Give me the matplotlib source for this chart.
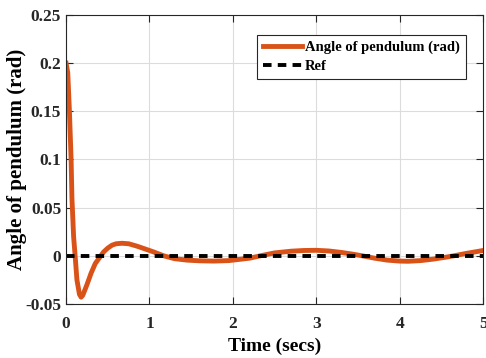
import matplotlib
matplotlib.use('Agg')
import matplotlib.pyplot as plt

# pendulum angle (time in secs, angle in rad)
t = [0.0, 0.02, 0.04, 0.06, 0.07, 0.09, 0.11, 0.13, 0.16, 0.18, 0.20, 0.25,
     0.30, 0.35, 0.40, 0.45, 0.50, 0.55, 0.60, 0.67, 0.75, 0.85, 0.95, 1.05,
     1.17, 1.30, 1.45, 1.60, 1.77, 1.95, 2.10, 2.20, 2.33, 2.50, 2.70, 2.85,
     3.00, 3.15, 3.30, 3.45, 3.55, 3.70, 3.85, 4.00, 4.10, 4.25, 4.40, 4.55,
     4.65, 4.80, 5.00]
angle = [0.200, 0.190, 0.150, 0.100, 0.060, 0.020, -0.002, -0.025, -0.040, -0.043,
         -0.041, -0.030, -0.018, -0.008, -0.002, 0.004, 0.008, 0.011, 0.0125, 0.013,
         0.0125, 0.010, 0.007, 0.004, 0.000, -0.003, -0.0045, -0.0052, -0.0055,
         -0.005, -0.0035, -0.0025, 0.000, 0.003, 0.0048, 0.0055, 0.0057, 0.005,
         0.0035, 0.0015, 0.000, -0.0025, -0.0045, -0.0055, -0.0057, -0.005, -0.0035,
         -0.0015, 0.000, 0.0025, 0.0055]
t_ref = [0, 5]
ref = [0, 0]

plt.rcParams['font.family'] = 'Liberation Serif'
plt.rcParams['font.weight'] = 'bold'

fig = plt.figure(figsize=(4.86, 3.58), dpi=100)
ax = fig.add_axes([0.136, 0.151, 0.858, 0.807])

ax.plot(t, angle, '-', color='#D95319', lw=3.5, label='Angle of pendulum (rad)')
ax.plot(t_ref, ref, '--k', lw=2.8, dashes=(2.2, 1.6), label='Ref')

ax.set_xlim(0, 5)
ax.set_ylim(-0.05, 0.25)
ax.set_xticks([0, 1, 2, 3, 4, 5])
ax.set_yticks([-0.05, 0, 0.05, 0.1, 0.15, 0.2, 0.25])
ax.set_yticklabels(['-0.05', '0', '0.05', '0.1', '0.15', '0.2', '0.25'])
ax.grid(True, color='#dcdcdc', lw=0.8)
ax.tick_params(direction='in', top=True, right=True, labelsize=12.5, length=5, width=0.8, colors='#262626')
ax.tick_params(axis='x', pad=9)
for lab in ax.get_xticklabels() + ax.get_yticklabels():
    lab.set_fontweight('bold')
for s in ax.spines.values():
    s.set_color('#262626')
    s.set_linewidth(0.8)

ax.set_xlabel('Time (secs)', fontsize=14, fontweight='bold')
ax.xaxis.set_label_coords(0.5, -0.118)
ax.set_ylabel('Angle of pendulum (rad)', fontsize=15, fontweight='bold')
ax.yaxis.set_label_coords(-0.094, 0.5)

leg = ax.legend(loc='upper right', fontsize=10.5, fancybox=False, edgecolor='#262626',
                framealpha=1, handlelength=2.7, handletextpad=0.2, borderpad=0.4,
                labelspacing=0.4, bbox_to_anchor=(0.976, 0.957))
leg.get_frame().set_linewidth(0.8)

plt.savefig('out.png', dpi=100)
